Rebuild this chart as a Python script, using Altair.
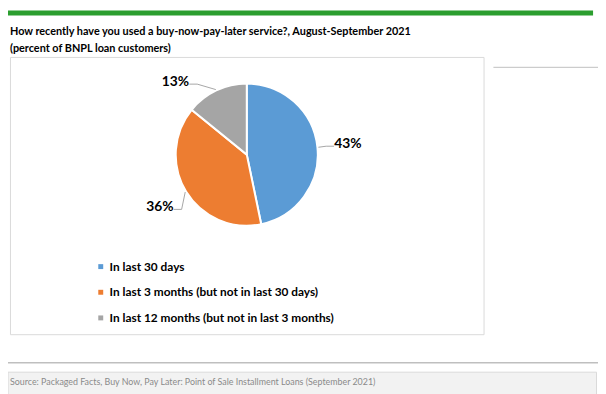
import altair as alt
import pandas as pd

# ---- data ----
CATEGORIES = [
    "In last 30 days",
    "In last 3 months (but not in last 30 days)",
    "In last 12 months (but not in last 3 months)",
]
VALUES = [43, 36, 13]
LABELS = ["43%", "36%", "13%"]
COLORS = ["#5B9BD5", "#ED7D31", "#A5A5A5"]
TITLE_LINES = [
    "How recently have you used a buy-now-pay-later service?, August-September 2021",
    "(percent of BNPL loan customers)",
]
SOURCE = "Source: Packaged Facts, Buy Now, Pay Later: Point of Sale Installment Loans (September 2021)"

# ---- layout ----
W, H = 598, 386
FONT = "Lato"


def P(v):
    return v - 5


CX, CY, R = P(247), P(151), 72
one = pd.DataFrame({"k": [0]})
df = pd.DataFrame({"category": CATEGORIES, "value": VALUES, "label": LABELS,
                   "idx": list(range(len(VALUES)))})

green = alt.Chart(one).mark_rect(color="#2b9e2f").encode(
    x=alt.value(P(5)), x2=alt.value(P(598)), y=alt.value(0), y2=alt.value(P(10)))

title1 = alt.Chart(one).mark_text(align="left", baseline="alphabetic", font=FONT,
                                  fontWeight="bold", fontSize=11, color="#000000").encode(
    x=alt.value(P(7)), y=alt.value(P(30)), text=alt.value(TITLE_LINES[0]))
title2 = alt.Chart(one).mark_text(align="left", baseline="alphabetic", font=FONT,
                                  fontWeight="bold", fontSize=11, color="#000000").encode(
    x=alt.value(P(7)), y=alt.value(P(47)), text=alt.value(TITLE_LINES[1]))

box = alt.Chart(one).mark_rect(fill="white", stroke="#d9d9d9", strokeWidth=1).encode(
    x=alt.value(P(7.5)), x2=alt.value(P(487.5)), y=alt.value(P(52.5)), y2=alt.value(P(333.5)))

side_line = alt.Chart(one).mark_rule(color="#bfbfbf", strokeWidth=1).encode(
    x=alt.value(P(497)), x2=alt.value(P(603)), y=alt.value(P(62.5)))

sep_line = alt.Chart(one).mark_rule(color="#bfbfbf", strokeWidth=1.5).encode(
    x=alt.value(0), x2=alt.value(W), y=alt.value(P(362)))

footer = alt.Chart(one).mark_rect(fill="#f2f2f2", stroke="#d9d9d9", strokeWidth=1).encode(
    x=alt.value(0), x2=alt.value(P(601.5)), y=alt.value(P(371.5)), y2=alt.value(H + 5))

source = alt.Chart(one).mark_text(align="left", baseline="alphabetic", font=FONT,
                                  fontSize=9, color="#8a8a8a").encode(
    x=alt.value(P(7)), y=alt.value(P(385)), text=alt.value(SOURCE))

pie = alt.Chart(df).mark_arc(outerRadius=R, stroke="white", strokeWidth=2).encode(
    theta=alt.Theta("value:Q", stack=True),
    order=alt.Order("idx:Q"),
    color=alt.Color(
        "category:N",
        scale=alt.Scale(domain=CATEGORIES, range=COLORS),
        legend=alt.Legend(
            orient="none", legendX=P(93), legendY=P(258.5), title=None,
            direction="vertical", symbolType="square", symbolSize=25,
            symbolStrokeWidth=0, labelFont=FONT, labelFontWeight="bold",
            labelFontSize=12, labelColor="#000000", labelOffset=3,
            rowPadding=14, labelLimit=500, padding=0),
    ),
    x=alt.value(CX), y=alt.value(CY),
)

lab_base = alt.Chart(df).transform_window(
    cum="sum(value)", sort=[alt.SortField("idx", order="ascending")]
).transform_joinaggregate(total="sum(value)").transform_calculate(
    mid="2*PI*(datum.cum - datum.value/2)/datum.total"
).transform_calculate(
    ang="datum.mid + (datum.idx == 2 ? -0.333 : 0)"
).transform_calculate(
    lx=f"{CX} + 103*sin(datum.ang)",
    ly=f"{CY} - 103*cos(datum.ang)",
    sx=f"{CX} + 73*sin(datum.mid)",
    sy=f"{CY} - 73*cos(datum.mid)",
    side="sin(datum.ang) > 0 ? 1 : -1",
).transform_calculate(
    ex="datum.lx - datum.side*14",
    ey="datum.ly + 2",
).transform_calculate(
    bx="datum.ex - datum.side*8",
)

leaders1 = lab_base.mark_rule(color="#a6a6a6", strokeWidth=1).encode(
    x=alt.X("sx:Q", scale=None), y=alt.Y("sy:Q", scale=None),
    x2="bx:Q", y2="ey:Q")
leaders2 = lab_base.mark_rule(color="#a6a6a6", strokeWidth=1).encode(
    x=alt.X("bx:Q", scale=None), y=alt.Y("ey:Q", scale=None),
    x2="ex:Q")

labels = lab_base.mark_text(font=FONT, fontWeight="bold", fontSize=14,
                            color="#000000", baseline="middle", align="center").encode(
    x=alt.X("lx:Q", scale=None), y=alt.Y("ly:Q", scale=None), text="label:N")

chart = alt.layer(green, title1, title2, box, side_line, sep_line, footer, source,
                  pie, leaders1, leaders2, labels).properties(
    width=W, height=H, padding=0, autosize="none", background="white"
).configure_view(stroke=None)

chart.save("out.html", embed_options={"renderer": "svg", "actions": False})
